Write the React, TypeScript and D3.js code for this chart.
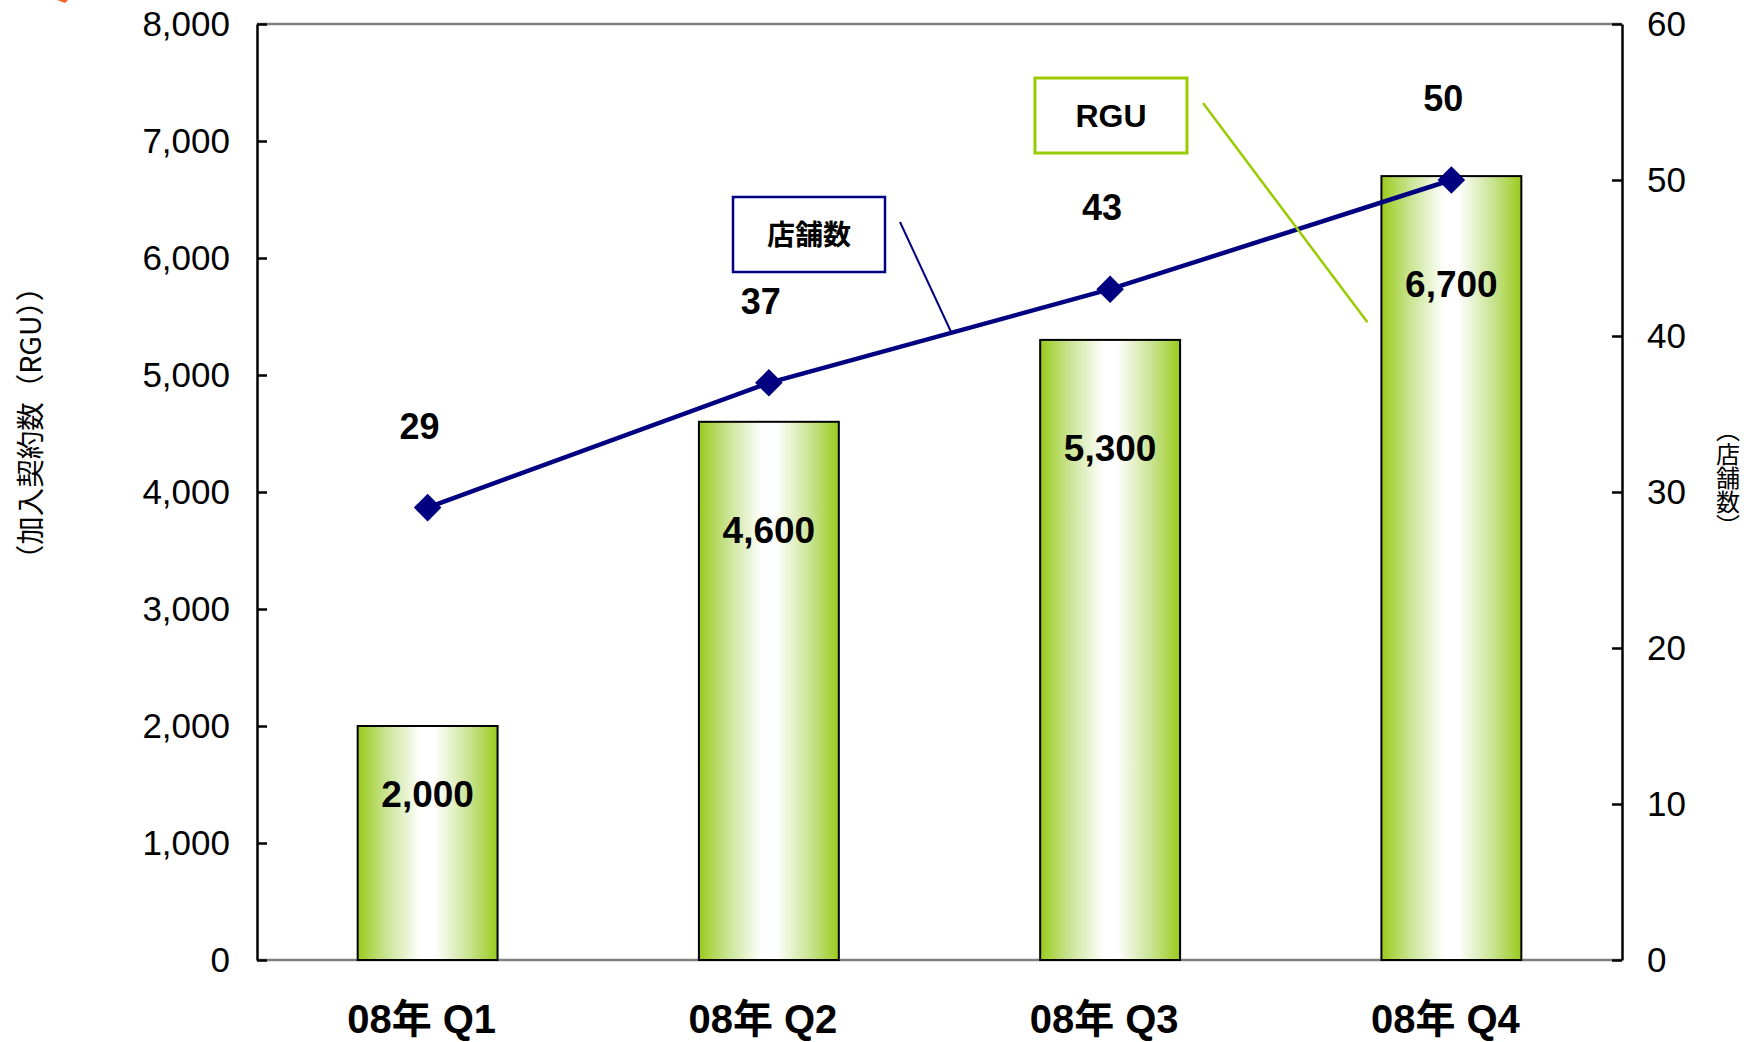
import React, { useEffect, useRef } from "react";
import * as d3 from "d3";

// data
const categories = ["08年 Q1", "08年 Q2", "08年 Q3", "08年 Q4"];
const rguValues = [2000, 4600, 5300, 6700];
const storeCounts = [29, 37, 43, 50];
const leftTicks = [0, 1000, 2000, 3000, 4000, 5000, 6000, 7000, 8000];
const rightTicks = [0, 10, 20, 30, 40, 50, 60];
const leftTitle = "（加入契約数（RGU））";
const rightTitle = "（店舗数）";

const W = 1753;
const H = 1042;
const margin = { top: 24, right: 131, bottom: 82, left: 257 };
const FONT = "'Liberation Sans', Arial, 'Noto Sans CJK JP', sans-serif";
const CJK = "'Noto Sans CJK JP', 'Noto Sans CJK SC', sans-serif";
const NAVY = "#000080";
const GREEN = "#99cc00";

export default function App() {
  const ref = useRef<SVGSVGElement>(null);

  useEffect(() => {
    const svg = d3.select(ref.current);
    svg.selectAll("*").remove();

    const xl = margin.left;
    const xr = W - margin.right;
    const yb = H - margin.bottom;
    const yt = margin.top;

    const x = d3
      .scaleBand()
      .domain(categories)
      .range([xl, xr])
      .paddingInner(0.59)
      .paddingOuter(0.295);
    const yL = d3.scaleLinear().domain([0, 8000]).range([yb, yt]);
    const yR = d3.scaleLinear().domain([0, 60]).range([yb, yt]);
    const cx = (c: string) => (x(c) as number) + x.bandwidth() / 2;

    const grad = svg
      .append("defs")
      .append("linearGradient")
      .attr("id", "barGrad")
      .attr("x1", "0%")
      .attr("x2", "100%")
      .attr("y1", "0%")
      .attr("y2", "0%");
    grad.append("stop").attr("offset", "0%").attr("stop-color", "#9acb1c");
    grad.append("stop").attr("offset", "20%").attr("stop-color", "#c8e390");
    grad.append("stop").attr("offset", "45%").attr("stop-color", "#ffffff");
    grad.append("stop").attr("offset", "55%").attr("stop-color", "#ffffff");
    grad.append("stop").attr("offset", "80%").attr("stop-color", "#c8e390");
    grad.append("stop").attr("offset", "100%").attr("stop-color", "#9acb1c");

    // small orange fragment at top-left corner of the source picture
    svg
      .append("path")
      .attr("d", "M57,0 L68,0 L65,3 Z")
      .attr("fill", "#f26522");

    // top and bottom frame lines (gray)
    svg
      .append("line")
      .attr("x1", xl)
      .attr("x2", xr)
      .attr("y1", yt)
      .attr("y2", yt)
      .attr("stroke", "#808080")
      .attr("stroke-width", 2.5);
    svg
      .append("line")
      .attr("x1", xl)
      .attr("x2", xr)
      .attr("y1", yb)
      .attr("y2", yb)
      .attr("stroke", "#808080")
      .attr("stroke-width", 2.5);

    // bars
    svg
      .append("g")
      .selectAll("rect")
      .data(rguValues)
      .join("rect")
      .attr("x", (_d, i) => x(categories[i]) as number)
      .attr("width", x.bandwidth())
      .attr("y", (d) => yL(d))
      .attr("height", (d) => yb - yL(d))
      .attr("fill", "url(#barGrad)")
      .attr("stroke", "#000")
      .attr("stroke-width", 2);

    // axes
    const leftAxis = svg
      .append("g")
      .attr("transform", `translate(${xl},0)`)
      .call(
        d3
          .axisLeft(yL)
          .tickValues(leftTicks)
          .tickFormat(d3.format(",") as any)
          .tickSizeInner(-10)
          .tickSizeOuter(0)
          .tickPadding(27)
      );
    const rightAxis = svg
      .append("g")
      .attr("transform", `translate(${xr},0)`)
      .call(
        d3
          .axisRight(yR)
          .tickValues(rightTicks)
          .tickSizeInner(-10)
          .tickSizeOuter(0)
          .tickPadding(25)
      );
    [leftAxis, rightAxis].forEach((g) => {
      g.attr("font-family", FONT).attr("font-size", 35);
      g.select(".domain").attr("stroke", "#000").attr("stroke-width", 2.5);
      g.selectAll(".tick line").attr("stroke", "#000").attr("stroke-width", 2.5);
      g.selectAll(".tick text").attr("fill", "#000");
    });

    // category labels
    svg
      .append("g")
      .selectAll("text")
      .data(categories)
      .join("text")
      .attr("x", (d) => cx(d) - 6)
      .attr("y", 1033)
      .attr("text-anchor", "middle")
      .attr("font-family", FONT)
      .attr("font-weight", "bold")
      .attr("font-size", 40)
      .attr("fill", "#000")
      .text((d) => d);

    // bar value labels
    const fmt = d3.format(",");
    svg
      .append("g")
      .selectAll("text")
      .data(rguValues)
      .join("text")
      .attr("x", (_d, i) => cx(categories[i]))
      .attr("y", (d) => yL(d) + Math.min(108, (yb - yL(d)) * 0.29))
      .attr("dy", "0.36em")
      .attr("text-anchor", "middle")
      .attr("font-family", FONT)
      .attr("font-weight", "bold")
      .attr("font-size", 37)
      .attr("fill", "#000")
      .text((d) => fmt(d));

    // store count line
    const line = d3
      .line<number>()
      .x((_d, i) => cx(categories[i]))
      .y((d) => yR(d));
    svg
      .append("path")
      .datum(storeCounts)
      .attr("d", line)
      .attr("fill", "none")
      .attr("stroke", NAVY)
      .attr("stroke-width", 4.5);

    const diamond = d3.symbol().type(d3.symbolSquare).size(380);
    svg
      .append("g")
      .selectAll("path")
      .data(storeCounts)
      .join("path")
      .attr("d", diamond)
      .attr(
        "transform",
        (d, i) => `translate(${cx(categories[i])},${yR(d)}) rotate(45)`
      )
      .attr("fill", NAVY);

    svg
      .append("g")
      .selectAll("text")
      .data(storeCounts)
      .join("text")
      .attr("x", (_d, i) => cx(categories[i]) - 8)
      .attr("y", (d) => yR(d) - 82)
      .attr("dy", "0.36em")
      .attr("text-anchor", "middle")
      .attr("font-family", FONT)
      .attr("font-weight", "bold")
      .attr("font-size", 36)
      .attr("fill", "#000")
      .text((d) => d);

    // axis titles
    svg
      .append("text")
      .attr("transform", "translate(31,423) rotate(-90)")
      .attr("text-anchor", "middle")
      .attr("dy", "0.36em")
      .attr("font-family", CJK)
      .attr("font-size", 28.5)
      .attr("fill", "#000")
      .text(leftTitle);
    svg
      .append("text")
      .attr("x", 1728)
      .attr("y", 478)
      .attr("text-anchor", "middle")
      .style("writing-mode", "vertical-rl")
      .attr("font-family", CJK)
      .attr("font-size", 24)
      .attr("fill", "#000")
      .text(rightTitle);

    // callouts
    const callout = (
      label: string,
      color: string,
      bx: number,
      by: number,
      sw: number,
      lw: number,
      from: [number, number],
      to: [number, number],
      font: string,
      fs: number
    ) => {
      const g = svg.append("g");
      g.append("rect")
        .attr("x", bx)
        .attr("y", by)
        .attr("width", 152)
        .attr("height", 75)
        .attr("fill", "#fff")
        .attr("stroke", color)
        .attr("stroke-width", sw);
      g.append("text")
        .attr("x", bx + 76)
        .attr("y", by + 37.5)
        .attr("dy", "0.36em")
        .attr("text-anchor", "middle")
        .attr("font-family", font)
        .attr("font-weight", "bold")
        .attr("font-size", fs)
        .attr("fill", "#000")
        .text(label);
      g.append("line")
        .attr("x1", from[0])
        .attr("y1", from[1])
        .attr("x2", to[0])
        .attr("y2", to[1])
        .attr("stroke", color)
        .attr("stroke-width", lw);
    };

    // leader of 店舗数 ends on the line between Q2 and Q3
    const t = 0.535;
    const qa = cx(categories[1]);
    const qb = cx(categories[2]);
    const lx = qa + (qb - qa) * t;
    const ly = yR(storeCounts[1]) + (yR(storeCounts[2]) - yR(storeCounts[1])) * t;
    callout("店舗数", NAVY, 733, 197, 2.5, 2, [900, 222], [lx, ly], CJK, 28);

    // leader of RGU points at the Q4 bar
    callout(
      "RGU",
      GREEN,
      1035,
      78,
      3,
      2.5,
      [1203, 103],
      [(x(categories[3]) as number) - 14, yL(5450)],
      FONT,
      32
    );
  }, []);

  return (
    <svg
      ref={ref}
      width={W}
      height={H}
      style={{ position: "absolute", left: 0, top: 0, background: "#fff" }}
    />
  );
}
